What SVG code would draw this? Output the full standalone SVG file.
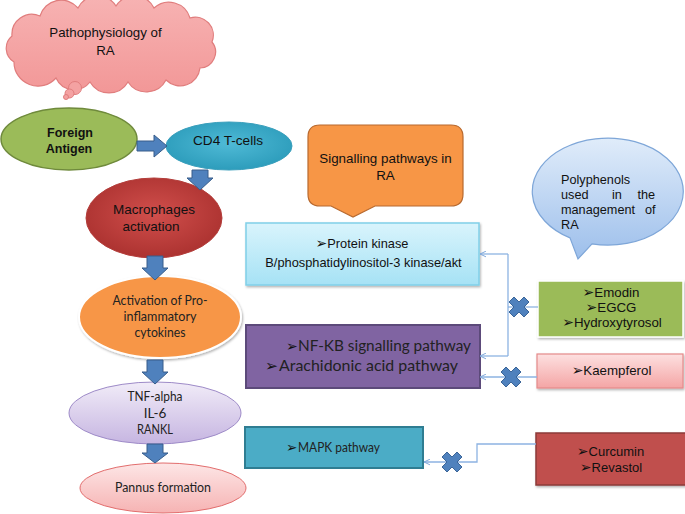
<svg xmlns="http://www.w3.org/2000/svg" width="685" height="514" viewBox="0 0 685 514">
<defs>
  <linearGradient id="gCloud" x1="0" y1="0" x2="0" y2="1">
    <stop offset="0" stop-color="#f7b3b3"/><stop offset="1" stop-color="#f29797"/>
  </linearGradient>
  <radialGradient id="gCd4" cx="0.5" cy="0.45" r="0.6">
    <stop offset="0" stop-color="#4fbad6"/><stop offset="1" stop-color="#2a9ab9"/>
  </radialGradient>
  <radialGradient id="gMac" cx="0.5" cy="0.45" r="0.6">
    <stop offset="0" stop-color="#d14f4c"/><stop offset="1" stop-color="#a9302e"/>
  </radialGradient>
  <linearGradient id="gTnf" x1="0" y1="0" x2="0" y2="1">
    <stop offset="0" stop-color="#f1ecf8"/><stop offset="1" stop-color="#c6b5e1"/>
  </linearGradient>
  <linearGradient id="gPan" x1="0" y1="0" x2="0" y2="1">
    <stop offset="0" stop-color="#fde6e6"/><stop offset="1" stop-color="#f6b3b3"/>
  </linearGradient>
  <linearGradient id="gPk" x1="0" y1="0" x2="0" y2="1">
    <stop offset="0" stop-color="#d9f4fc"/><stop offset="1" stop-color="#a6e2f5"/>
  </linearGradient>
  <linearGradient id="gKae" x1="0" y1="0" x2="0" y2="1">
    <stop offset="0" stop-color="#fde0e0"/><stop offset="1" stop-color="#f4a5a5"/>
  </linearGradient>
  <linearGradient id="gPoly" x1="0" y1="0" x2="0" y2="1">
    <stop offset="0" stop-color="#e0ecfa"/><stop offset="1" stop-color="#9dbfeb"/>
  </linearGradient>
  <filter id="sh" x="-10%" y="-10%" width="130%" height="140%">
    <feDropShadow dx="1" dy="1.5" stdDeviation="1.2" flood-color="#000" flood-opacity="0.3"/>
  </filter>
  <marker id="open" viewBox="0 0 10 10" refX="9.5" refY="5" markerWidth="7" markerHeight="7" markerUnits="userSpaceOnUse" orient="auto">
    <path d="M1,1 L9.5,5 L1,9" fill="none" stroke="#7ea6d8" stroke-width="1.4"/>
  </marker>
  <path id="xmark" d="M-10,-5 L-5,-10 L0,-5 L5,-10 L10,-5 L5,0 L10,5 L5,10 L0,5 L-5,10 L-10,5 L-5,0 Z"/>
</defs>
<style>
  .ar{font-family:"Liberation Sans",Arial,sans-serif;fill:#111}
  .ca{font-family:Lato,"Open Sans",sans-serif;fill:#222}
  .b{font-family:"DejaVu Sans",sans-serif;fill:#111}
  .blk{fill:#4f81bd;stroke:#385d8a;stroke-width:1}
  .con{fill:none;stroke:#8db3e2;stroke-width:1.3}
  .xm{fill:#4f81bd;stroke:#3b6598;stroke-width:1;stroke-linejoin:round}
  .mid{text-anchor:middle}
</style>

<g id="cloud">
  <path d="M14,62 A16 16 0 0 1 12,36 A20 20 0 0 1 40,16 A22 22 0 0 1 78,8 A22 22 0 0 1 116,6 A22 22 0 0 1 154,8 A22 22 0 0 1 190,18 A18 18 0 0 1 212,42 A16 16 0 0 1 200,68 A20 20 0 0 1 166,80 A22 22 0 0 1 128,82 A22 22 0 0 1 90,82 A20 20 0 0 1 56,78 A24 24 0 0 1 14,62 Z" fill="url(#gCloud)" stroke="#e07d7d" stroke-width="1.2"/>
  <circle cx="75" cy="88" r="6.5" fill="#f4a2a2" stroke="#e07d7d" stroke-width="1"/>
  <circle cx="69.5" cy="93.5" r="4.5" fill="#f4a2a2" stroke="#e07d7d" stroke-width="1"/>
  <circle cx="66" cy="97" r="2.5" fill="#f4a2a2" stroke="#e07d7d" stroke-width="1"/>
  <text class="ar mid" x="105.5" y="37" font-size="13.3">Pathophysiology of</text>
  <text class="ar mid" x="105.5" y="55" font-size="13.3">RA</text>
</g>

<g id="foreign-antigen">
  <ellipse cx="69" cy="139" rx="68" ry="31" fill="#9bbb59" stroke="#6f8a3c" stroke-width="1.5"/>
  <text class="ar mid" x="70" y="137" font-size="12.5" font-weight="bold">Foreign</text>
  <text class="ar mid" x="69" y="153" font-size="12.5" font-weight="bold">Antigen</text>
</g>

<g id="cd4">
  <ellipse cx="229" cy="146" rx="63" ry="24" fill="url(#gCd4)" stroke="#3a9fbc" stroke-width="1"/>
  <text class="ar mid" x="228" y="145" font-size="13.6">CD4 T-cells</text>
</g>

<g id="macrophages">
  <ellipse cx="154" cy="218" rx="68" ry="40" fill="url(#gMac)" stroke="#b33d3a" stroke-width="1"/>
  <text class="ar mid" x="154" y="214" font-size="13.5">Macrophages</text>
  <text class="ar mid" x="151" y="231" font-size="13.5">activation</text>
</g>

<g id="cytokines">
  <ellipse cx="160" cy="317" rx="81" ry="41" fill="#f79646" stroke="#ffffff" stroke-width="2" filter="url(#sh)"/>
  <text class="ca mid" x="160" y="305" font-size="13.5" textLength="95" lengthAdjust="spacingAndGlyphs">Activation of Pro-</text>
  <text class="ca mid" x="160" y="321" font-size="13.5" textLength="73" lengthAdjust="spacingAndGlyphs">inflammatory</text>
  <text class="ca mid" x="160" y="337" font-size="13.5" textLength="51" lengthAdjust="spacingAndGlyphs">cytokines</text>
</g>

<g id="tnf">
  <ellipse cx="155" cy="413" rx="86" ry="31" fill="url(#gTnf)" stroke="#9e8bc8" stroke-width="1"/>
  <text class="ca mid" x="155" y="401" font-size="13.5" textLength="55" lengthAdjust="spacingAndGlyphs">TNF-alpha</text>
  <text class="ca mid" x="155" y="418" font-size="13.5">IL-6</text>
  <text class="ca mid" x="155" y="434" font-size="13.5" textLength="36" lengthAdjust="spacingAndGlyphs">RANKL</text>
</g>

<g id="pannus">
  <ellipse cx="163" cy="488" rx="83" ry="25" fill="url(#gPan)" stroke="#e26d6d" stroke-width="1"/>
  <text class="ca mid" x="163" y="492" font-size="13.5" textLength="96" lengthAdjust="spacingAndGlyphs">Pannus formation</text>
</g>

<g id="signalling-callout">
  <path d="M320,125 H451 Q463,125 463,137 V194 Q463,206 451,206 H375 L353,217 L331,206 H320 Q308,206 308,194 V137 Q308,125 320,125 Z" fill="#f79646" stroke="#b8692e" stroke-width="1.2"/>
  <text class="ar mid" x="385.5" y="163" font-size="13.4">Signalling pathways in</text>
  <text class="ar mid" x="385.5" y="180" font-size="13.4">RA</text>
</g>

<g id="polyphenols-callout">
  <path d="M570,237.9 L578,259 L592,243.9 A75.5 53.5 0 1 0 570,237.9 Z" fill="url(#gPoly)" stroke="#7ea6d8" stroke-width="1.2"/>
  <text class="ar" x="561" y="184" font-size="12.7">Polyphenols</text>
  <text class="ar" y="199" font-size="12.7"><tspan x="561">used</tspan><tspan x="612">in</tspan><tspan x="637.5">the</tspan></text>
  <text class="ar" y="214" font-size="12.7"><tspan x="561">management</tspan><tspan x="645">of</tspan></text>
  <text class="ar" x="561" y="228.5" font-size="12.7">RA</text>
</g>

<g id="protein-kinase">
  <rect x="246" y="223" width="233" height="62" fill="url(#gPk)" stroke="#80cfe8" stroke-width="1.5" filter="url(#sh)"/>
  <text class="ar mid" x="362" y="248" font-size="12.8"><tspan class="b" font-size="14">➢</tspan>Protein kinase</text>
  <text class="ar mid" x="363.5" y="267" font-size="12.8">B/phosphatidylinositol-3 kinase/akt</text>
</g>

<g id="nfkb">
  <rect x="246" y="325" width="234" height="63" fill="#8064a2" stroke="#5c4a7a" stroke-width="2"/>
  <text class="b" x="286" y="351" font-size="14">➢</text>
  <text class="ca" x="298" y="351" font-size="15.5" textLength="173" lengthAdjust="spacingAndGlyphs">NF-KB signalling pathway</text>
  <text class="b" x="265" y="371" font-size="15.5">➢</text>
  <text class="ca" x="279" y="371" font-size="16" textLength="179" lengthAdjust="spacingAndGlyphs">Arachidonic acid pathway</text>
</g>

<g id="mapk">
  <rect x="245" y="427" width="178" height="41" fill="#4bacc6" stroke="#2f7d92" stroke-width="2"/>
  <text class="b" x="286" y="452" font-size="13.5">➢</text>
  <text class="ca" x="298" y="452" font-size="13.5" textLength="82" lengthAdjust="spacingAndGlyphs">MAPK pathway</text>
</g>

<g id="emodin">
  <rect x="538" y="281" width="145" height="56" fill="#9bbb59" stroke="#ffffff" stroke-width="1.5" filter="url(#sh)"/>
  <text class="ar mid" x="611" y="297" font-size="13.3"><tspan class="b" font-size="14">➢</tspan>Emodin</text>
  <text class="ar mid" x="611" y="312" font-size="13.3"><tspan class="b" font-size="14">➢</tspan>EGCG</text>
  <text class="ar mid" x="612" y="327" font-size="13.3"><tspan class="b" font-size="14">➢</tspan>Hydroxytyrosol</text>
</g>

<g id="kaempferol">
  <rect x="537" y="354" width="146" height="34" fill="url(#gKae)" stroke="#e58a8a" stroke-width="1.2" filter="url(#sh)"/>
  <text class="ar mid" x="611.5" y="375" font-size="13.3"><tspan class="b" font-size="14">➢</tspan>Kaempferol</text>
</g>

<g id="curcumin">
  <rect x="536" y="433" width="150" height="52" fill="#c0504d" stroke="#8c3a38" stroke-width="1.5" filter="url(#sh)"/>
  <text class="ar mid" x="610.5" y="456" font-size="13"><tspan class="b" font-size="14">➢</tspan>Curcumin</text>
  <text class="ar mid" x="611" y="472" font-size="13"><tspan class="b" font-size="14">➢</tspan>Revastol</text>
</g>

<g id="connectors">
  <path class="blk" d="M137,141 H154 V135 L167,146 L154,157 V151 H137 Z"/>
  <path class="blk" d="M192,170 H208 V178 H213 L200,190 L187,178 H192 Z"/>
  <path class="blk" d="M147,256 H163 V268 H168 L155,280 L142,268 H147 Z"/>
  <path class="blk" d="M147,360 H163 V372 H168 L155,384 L142,372 H147 Z"/>
  <path class="blk" d="M147,444 H163 V453 H168 L155,463 L142,453 H147 Z"/>

  <path class="con" d="M538,307 H508"/>
  <path class="con" d="M508,254 V356"/>
  <path class="con" d="M508,254 H480" marker-end="url(#open)"/>
  <path class="con" d="M508,356 H480" marker-end="url(#open)"/>
  <path class="con" d="M537,377 H480" marker-end="url(#open)"/>
  <path class="con" d="M536,444 H477 V462 H424" marker-end="url(#open)"/>

  <use href="#xmark" class="xm" x="519" y="307"/>
  <use href="#xmark" class="xm" x="511" y="377"/>
  <use href="#xmark" class="xm" x="452" y="462"/>
</g>
</svg>
